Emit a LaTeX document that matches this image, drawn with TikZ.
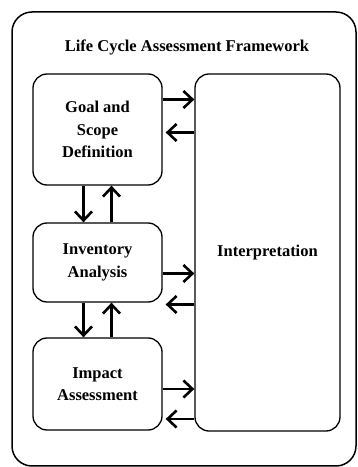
\documentclass[tikz,border=0pt]{standalone}
\usepackage{fontspec}
\setmainfont{Liberation Serif}
\usetikzlibrary{arrows.meta}
\begin{document}
\begin{tikzpicture}[
	x=1pt, y=1pt,
	font=\fontsize{16.5}{22.5}\selectfont\bfseries
]
\tikzset{
    framebox/.style = {draw=black, line width=1.5pt, rounded corners=20pt},
    stagebox/.style = {draw=black, line width=1.3pt, rounded corners=14pt,
        align=center, minimum width=129pt, inner sep=0pt},
    flow/.style = {-{Straight Barb[length=9pt,width=17pt]}, line width=2.6pt},
}
\useasboundingbox (0,0) rectangle (357,467);
\draw[framebox] (12,1) rectangle (356,455);
\node at (187,420) (title) {Life Cycle Assessment Framework};
%
\node[stagebox, minimum height=111pt] at (97.5,337.5) (goal) {Goal and\\Scope\\Definition};
\node[stagebox, minimum height=79pt] at (97.5,204.5) (inv) {Inventory\\Analysis};
\node[stagebox, minimum height=92pt] at (97.5,83) (impact) {Impact\\Assessment};
\node[stagebox, minimum width=145pt, minimum height=357pt] at (267.5,214.5) (interp) {Interpretation};
%
\draw[flow] ([yshift=30pt]goal.east) -- ([yshift=30pt]goal.east -| interp.west);
\draw[flow] ([yshift=-3pt]goal.east -| interp.west) -- ([yshift=-3pt,xshift=3pt]goal.east);
\draw[flow] ([yshift=-11pt]inv.east) -- ([yshift=-11pt]inv.east -| interp.west);
\draw[flow] ([yshift=-42pt]inv.east -| interp.west) -- ([yshift=-42pt,xshift=3pt]inv.east);
\draw[flow] ([yshift=-5pt]impact.east) -- ([yshift=-5pt]impact.east -| interp.west);
\draw[flow] ([yshift=-35pt]impact.east -| interp.west) -- ([yshift=-35pt,xshift=3pt]impact.east);
%
\draw[flow] ([xshift=-14pt]goal.south) -- ([xshift=-14pt]goal.south |- inv.north);
\draw[flow] ([xshift=14pt]inv.north) -- ([xshift=14pt]inv.north |- goal.south);
\draw[flow] ([xshift=-14pt]inv.south) -- ([xshift=-14pt]inv.south |- impact.north);
\draw[flow] ([xshift=14pt]impact.north) -- ([xshift=14pt]impact.north |- inv.south);
\end{tikzpicture}
\end{document}
